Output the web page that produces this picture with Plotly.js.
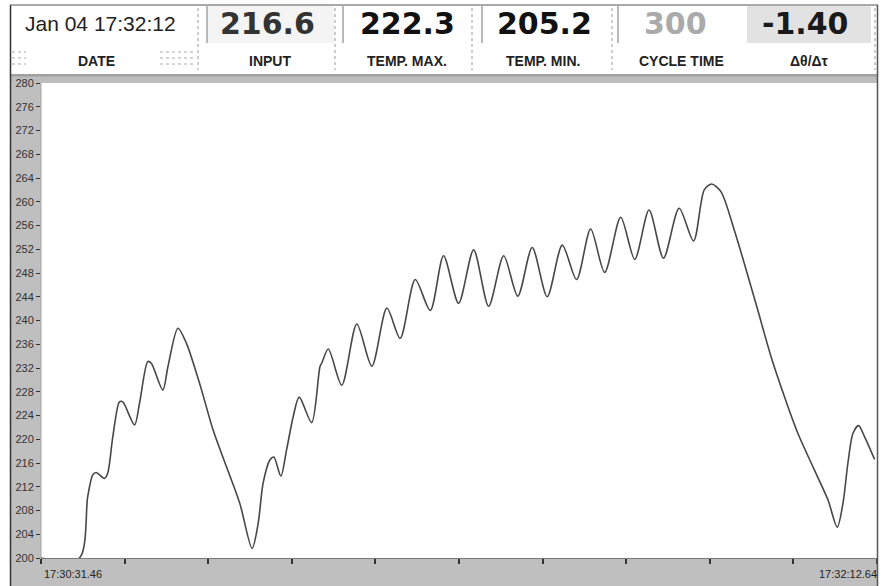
<!DOCTYPE html>
<html>
<head>
<meta charset="utf-8">
<script src="https://cdn.plot.ly/plotly-3.0.1.min.js"></script>
<style>
html,body{margin:0;padding:0;background:#fff;}
#chart{width:885px;height:586px;}
</style>
</head>
<body>
<div id="chart"></div>
<script>
// ---- data (time in seconds from 17:30:31.46, temperature) ----
const timeSec = [0, 4.65, 5.65, 6.26, 6.67, 7.68, 8.08, 8.69, 9.50, 9.90, 11.32, 11.93, 12.93, 13.35, 14.75, 15.36, 16.57, 17.59, 19.20, 20.82, 22.44, 24.06, 25.55, 26.28, 26.88, 27.70, 28.18, 29.03, 29.72, 30.52, 31.25, 32.76, 33.76, 33.97, 34.77, 36.40, 38.22, 40.04, 41.86, 43.47, 45.29, 47.11, 48.72, 50.54, 52.36, 54.18, 56.00, 57.70, 59.45, 61.27, 63.09, 64.82, 66.52, 68.22, 70.16, 71.86, 73.59, 75.34, 77.23, 78.98, 80.27, 81.16, 82.29, 83.91, 85.12, 86.74, 88.36, 89.97, 91.60, 93.61, 95.24, 96.37, 97.06, 97.66, 98.27, 98.95, 99.68, 100.89];
const temperature = [200, 200, 210.3, 214.0, 214.4, 213.4, 214.3, 220.4, 226.3, 226.3, 222.4, 226.1, 233.1, 232.8, 228.3, 232.2, 238.7, 236.2, 229.4, 221.6, 215.4, 209.2, 201.6, 205.8, 212.6, 216.5, 217.0, 213.8, 218.2, 223.8, 227.1, 222.8, 232.2, 232.8, 235.2, 229.1, 239.4, 232.3, 242.1, 237.0, 246.9, 241.7, 250.9, 242.9, 251.9, 242.4, 250.9, 244.1, 252.3, 244.0, 252.7, 246.9, 255.4, 248.1, 257.4, 250.3, 258.6, 250.5, 258.9, 253.4, 262.0, 263.0, 261.7, 255.2, 249.6, 241.8, 233.9, 227.2, 221.0, 214.8, 209.8, 205.2, 209.2, 216.0, 221.0, 222.3, 220.4, 216.6];

const totalSpan = 101.18;             // 17:30:31.46 -> 17:32:12.64
const xTickCount = 10;                // intervals on the time axis
const xEndLabels = ["17:30:31.46", "17:32:12.64"];
const yRange = [200, 280];
const yStep = 4;

const headerValues = ["Jan 04 17:32:12", "216.6", "222.3", "205.2", "300", "-1.40"];
const headerLabels = ["DATE", "INPUT", "TEMP. MAX.", "TEMP. MIN.", "CYCLE TIME", "Δθ/Δτ"];

// ---- layout helpers (pixel -> paper) ----
const L = 41, R = 877, T = 83, B = 558;
const px = v => (v - L) / (R - L);
const py = v => (B - v) / (B - T);

const xTicks = [];
for (let i = 0; i <= xTickCount; i++) xTicks.push(totalSpan * i / xTickCount);

const shapes = [];
function rect(x0, y0, x1, y1, fill, layer) {
  shapes.push({type: 'rect', xref: 'paper', yref: 'paper', x0: px(x0), x1: px(x1), y0: py(y1), y1: py(y0),
    fillcolor: fill, line: {width: 0}, layer: layer || 'below'});
}
function line(x0, y0, x1, y1, color, width, dash) {
  shapes.push({type: 'line', xref: 'paper', yref: 'paper', x0: px(x0), x1: px(x1), y0: py(y0), y1: py(y1),
    line: {color: color, width: width, dash: dash || 'solid'}, layer: 'above'});
}
// header cell backgrounds
rect(208, 6, 334, 43, '#f4f4f4');
rect(747, 6, 871, 43, '#e2e2e2');
// gray bands
rect(11, 74, 877, 83, '#bdbdbd');
rect(11, 74, 877, 76.5, '#a0a0a0');
rect(11, 83, 41, 558, '#bfbfbf');
rect(11, 558, 877, 586, '#bfbfbf');
// frame
line(10.5, 5, 10.5, 586, '#333', 1.5);
line(10, 5, 878, 5, '#555', 1.2);
line(877.5, 5, 877.5, 586, '#555', 1.5);
line(41, 558.5, 877, 558.5, '#777', 1);
line(41, 83, 41, 558, '#999', 0.8);
// solid separators in header
[207, 343, 482, 618].forEach(x => line(x, 6, x, 43, '#8a8a8a', 1.2));
// dotted separators
[198, 335, 472, 612, 875].forEach(x => line(x, 8, x, 70, '#9a9a9a', 1, 'dot'));
// dotted decoration near DATE
[52, 58, 64].forEach(y => { line(12, y, 26, y, '#aaa', 1, 'dot'); line(160, y, 196, y, '#aaa', 1, 'dot'); });

const annotations = [];
const valCenters = [100, 267, 407, 544, 675, 805];
const valColors = ['#222', '#333', '#111', '#111', '#aaaaaa', '#1a1a1a'];
headerValues.forEach((t, i) => {
  annotations.push({xref: 'paper', yref: 'paper', x: px(valCenters[i]), y: py(i === 0 ? 23 : 24),
    text: t, showarrow: false, xanchor: 'center', yanchor: 'middle',
    font: i === 0 ? {family: 'Liberation Sans, Arial, sans-serif', size: 21, color: valColors[i]}
                  : {family: 'DejaVu Sans, sans-serif', size: 30, color: valColors[i], weight: 'bold'}});
});
const labCenters = [96, 270, 407, 543, 681, 809];
headerLabels.forEach((t, i) => {
  annotations.push({xref: 'paper', yref: 'paper', x: px(labCenters[i]), y: py(61),
    text: '<b>' + t + '</b>', showarrow: false, xanchor: 'center', yanchor: 'middle',
    font: {family: 'Liberation Sans, Arial, sans-serif', size: 14, color: '#222'}});
});
annotations.push({xref: 'x', yref: 'paper', x: xTicks[0], y: py(574), text: xEndLabels[0], showarrow: false,
  xanchor: 'left', yanchor: 'middle', xshift: 1, font: {family: 'Liberation Sans, Arial, sans-serif', size: 11, color: '#222'}});
annotations.push({xref: 'x', yref: 'paper', x: xTicks[xTicks.length - 1], y: py(574), text: xEndLabels[1], showarrow: false,
  xanchor: 'left', yanchor: 'middle', xshift: -60, font: {family: 'Liberation Sans, Arial, sans-serif', size: 11, color: '#222'}});

const trace = {
  x: timeSec, y: temperature, type: 'scatter', mode: 'lines',
  line: {color: '#474747', width: 1.6, shape: 'spline', smoothing: 0.8},
  hoverinfo: 'skip'
};

const layout = {
  width: 885, height: 586,
  margin: {l: L, r: 885 - R, t: T, b: 586 - B, pad: 0},
  paper_bgcolor: '#ffffff', plot_bgcolor: '#ffffff',
  showlegend: false,
  xaxis: {range: [0, totalSpan], tickmode: 'array', tickvals: xTicks, ticktext: xTicks.map(() => ''),
    ticks: 'outside', ticklen: 5, tickwidth: 2, tickcolor: '#333', showgrid: false, zeroline: false,
    showline: false, fixedrange: true},
  yaxis: {range: yRange, dtick: yStep, tick0: 200, ticks: 'outside', ticklen: 4, tickwidth: 1, tickcolor: '#333',
    showgrid: false, zeroline: false, showline: false, fixedrange: true,
    tickfont: {family: 'Liberation Sans, Arial, sans-serif', size: 11, color: '#333'}},
  shapes: shapes,
  annotations: annotations
};

Plotly.newPlot('chart', [trace], layout, {displayModeBar: false, staticPlot: true});
</script>
</body>
</html>
